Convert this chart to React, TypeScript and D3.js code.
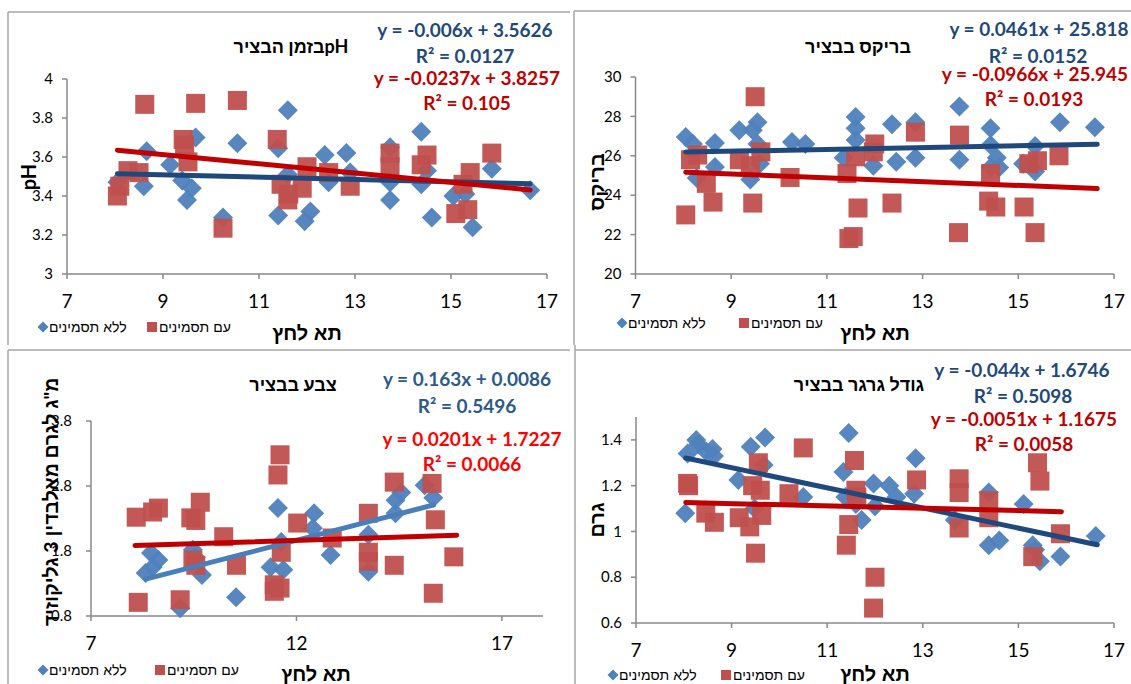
import React from 'react';
import * as d3 from 'd3';

// ---- data ----
const phBlue = [
  [8.05, 3.47], [8.66, 3.63], [8.6, 3.45], [9.15, 3.56], [9.4, 3.48], [9.5, 3.38], [9.6, 3.44], [9.68, 3.7],
  [10.25, 3.29], [10.55, 3.67], [11.4, 3.3], [11.4, 3.645], [11.6, 3.84], [11.6, 3.51], [11.95, 3.27], [12.07, 3.32],
  [12.37, 3.61], [12.45, 3.47], [12.82, 3.62], [12.9, 3.52], [13.73, 3.65], [13.73, 3.47], [13.73, 3.38], [14.38, 3.73],
  [14.38, 3.46], [14.5, 3.53], [14.6, 3.29], [15.05, 3.4], [15.3, 3.41], [15.45, 3.24], [15.85, 3.54], [16.65, 3.43],
];
const phRed = [
  [8.05, 3.4], [8.1, 3.45], [8.27, 3.53], [8.5, 3.52], [8.62, 3.87], [9.42, 3.69], [9.45, 3.66], [9.52, 3.575],
  [9.68, 3.875], [10.25, 3.235], [10.55, 3.89], [11.38, 3.69], [11.46, 3.46], [11.6, 3.38], [11.62, 3.41], [11.9, 3.44],
  [12.0, 3.55], [12.45, 3.52], [12.9, 3.45], [13.73, 3.62], [13.73, 3.55], [14.38, 3.56], [14.5, 3.61], [15.1, 3.31],
  [15.25, 3.46], [15.4, 3.52], [15.35, 3.33], [15.85, 3.62],
];
const brixBlue = [
  [8.05, 26.95], [8.2, 26.6], [8.28, 24.87], [8.66, 26.65], [8.66, 25.43], [9.17, 27.3], [9.4, 24.8], [9.45, 27.3],
  [9.55, 27.7], [9.55, 26.6], [9.6, 25.6], [10.27, 26.7], [10.55, 26.6], [11.35, 25.9], [11.6, 27.97], [11.6, 27.4],
  [11.6, 26.8], [11.97, 25.5], [12.36, 27.6], [12.45, 25.7], [12.85, 27.7], [12.85, 25.9], [13.77, 28.5], [13.77, 25.8],
  [14.42, 27.4], [14.42, 26.55], [14.42, 25.4], [14.55, 25.9], [14.6, 25.4], [15.1, 25.6], [15.35, 26.5], [15.35, 25.2],
  [15.87, 27.7], [16.6, 27.45],
];
const brixRed = [
  [8.05, 23.0], [8.15, 25.8], [8.3, 26.04], [8.48, 24.6], [8.62, 23.65], [9.17, 25.8], [9.4, 25.5], [9.45, 23.6],
  [9.5, 29.0], [9.62, 26.2], [10.23, 24.9], [11.42, 25.1], [11.46, 21.8], [11.55, 21.9], [11.6, 25.95], [11.65, 23.35],
  [12.0, 26.6], [11.97, 26.2], [12.36, 23.6], [12.85, 27.2], [13.77, 27.05], [13.75, 22.1], [14.38, 23.7], [14.42, 25.1],
  [14.53, 23.4], [15.12, 23.4], [15.22, 25.6], [15.35, 22.1], [15.4, 25.75], [15.85, 26.0],
];
const colorBlue = [
  [8.33, 1.46], [8.46, 1.77], [8.64, 1.66], [8.5, 1.55], [9.17, 0.92], [9.48, 1.82], [9.55, 1.7], [9.7, 1.43],
  [10.53, 1.09], [11.37, 1.55], [11.55, 2.46], [11.63, 1.94], [11.68, 1.51], [12.43, 2.38], [12.4, 2.15], [12.83, 1.74],
  [13.75, 2.05], [13.75, 1.48], [14.41, 2.38], [14.41, 2.58], [14.55, 2.7], [15.12, 2.81], [15.33, 2.62],
];
const colorRed = [
  [8.1, 2.32], [8.15, 1.01], [8.5, 2.4], [8.64, 2.46], [9.17, 1.05], [9.43, 2.31], [9.55, 2.27], [9.66, 2.55],
  [9.48, 1.66], [9.55, 1.58], [10.23, 2.02], [10.54, 1.58], [11.6, 3.28], [11.55, 2.97], [11.63, 1.78], [11.46, 1.28],
  [11.6, 1.23], [11.46, 1.18], [12.03, 2.23], [12.87, 2.0], [13.75, 2.38], [13.75, 1.78], [13.75, 1.64], [14.38, 2.86],
  [14.38, 1.58], [15.3, 2.84], [15.38, 2.28], [15.33, 1.15], [15.83, 1.71],
];
const sizeBlue = [
  [8.03, 1.08], [8.08, 1.34], [8.26, 1.4], [8.3, 1.38], [8.46, 1.35], [8.6, 1.36], [8.63, 1.33], [9.14, 1.225],
  [9.4, 1.37], [9.48, 1.1], [9.67, 1.29], [9.7, 1.41], [10.5, 1.15], [11.34, 1.26], [11.38, 1.15], [11.45, 1.43],
  [11.6, 1.12], [11.72, 1.05], [11.97, 1.21], [12.0, 1.11], [12.3, 1.2], [12.45, 1.15], [12.85, 1.32], [12.82, 1.165],
  [13.67, 1.05], [14.38, 1.17], [14.38, 0.94], [14.6, 0.96], [15.11, 1.12], [15.3, 0.94], [15.35, 0.92], [15.45, 0.87],
  [15.88, 0.89], [16.62, 0.98],
];
const sizeRed = [
  [8.08, 1.21], [8.1, 1.2], [8.46, 1.08], [8.64, 1.04], [9.16, 1.06], [9.38, 1.02], [9.5, 0.905], [9.44, 1.2],
  [9.56, 1.3], [9.6, 1.18], [9.63, 1.07], [10.2, 1.165], [10.5, 1.365], [11.4, 0.94], [11.45, 1.03], [11.57, 1.31],
  [11.6, 1.18], [11.62, 1.15], [12.0, 0.8], [11.97, 0.665], [12.87, 1.225], [13.76, 1.23], [13.76, 1.17], [13.76, 1.015],
  [14.38, 1.135], [14.38, 1.06], [15.4, 1.3], [15.45, 1.22], [15.3, 0.89], [15.88, 0.99],
];

// trendline coefficients [blue, red] per chart: slope, intercept, R², x-from, x-to
const trendSlope = [[-0.006, -0.0237], [0.0461, -0.0966], [0.163, 0.0201], [-0.044, -0.0051]];
const trendIntercept = [[3.5626, 3.8257], [25.818, 25.945], [0.0086, 1.7227], [1.6746, 1.1675]];
const trendR2 = [[0.0127, 0.105], [0.0152, 0.0193], [0.5496, 0.0066], [0.5098, 0.0058]];
const trendFrom = [[8.05, 8.05], [8.05, 8.05], [8.33, 8.07], [8.04, 8.04]];
const trendTo = [[16.65, 16.65], [16.65, 16.65], [15.34, 15.9], [16.65, 15.9]];

const xTicks = [7, 9, 11, 13, 15, 17];
const xTicksColor = [7, 12, 17];
const phTicks = [3, 3.2, 3.4, 3.6, 3.8, 4];
const brixTicks = [20, 22, 24, 26, 28, 30];
const colorTicks = [0.8, 1.8, 2.8, 3.8];
const sizeTicks = [0.6, 0.8, 1, 1.2, 1.4];

const titles = ['pHבזמן הבציר', 'בריקס בבציר', 'צבע בבציר', 'גודל גרגר בבציר'];
const yTitles = ['pH', 'בריקס', 'מ"ג לגרם מאלבדין 3 גליקוזיד', 'גרם'];
const xTitle = 'תא לחץ';
const legendLabels = ['ללא תסמינים', 'עם תסמינים'];

const FONT = "Lato, 'Liberation Sans', 'DejaVu Sans', sans-serif";
const HEB = "'Liberation Sans', 'DejaVu Sans', sans-serif";
const BLUE = '#4F81BD';
const RED = '#C0504D';
const AXIS = '#898989';

const diamond = (cx: number, cy: number, r: number) => `M${cx},${cy - r}L${cx + r},${cy}L${cx},${cy + r}L${cx - r},${cy}Z`;

const panels = [
  {
    blue: phBlue, red: phRed, xDomain: [7, 17], xRange: [67, 547], yDomain: [3, 4], yRange: [274, 79],
    xt: xTicks, yt: phTicks, labelGap: 14, xLabelY: 308, title: [291, 53], yTitle: [29, 177], xTitle: [307, 340],
    eq: [[465, 37], [465, 63], [467, 85], [467, 110]], eqColor: ['#1F497D', '#C00000'], lineColor: ['#1F497D', '#C00000'],
    legend: [43, 327, 152],
  },
  {
    blue: brixBlue, red: brixRed, xDomain: [7, 17], xRange: [635.5, 1114], yDomain: [20, 30], yRange: [274, 77],
    xt: xTicks, yt: brixTicks, labelGap: 14, xLabelY: 308, title: [858, 53], yTitle: [597, 182], xTitle: [875, 340],
    eq: [[1039, 36], [1038, 63], [1035, 81], [1034, 106]], eqColor: ['#1F497D', '#C00000'], lineColor: ['#1F497D', '#C00000'],
    legend: [622, 323, 744],
  },
  {
    blue: colorBlue, red: colorRed, xDomain: [7, 18], xRange: [91, 543], yDomain: [0.8, 3.8], yRange: [616, 421],
    xt: xTicksColor, yt: colorTicks, labelGap: 19, xLabelY: 650, title: [293, 391], yTitle: [51, 502], xTitle: [316, 681],
    eq: [[467, 386], [467, 413], [472, 446], [472, 471]], eqColor: ['#2B5A8A', '#FF0000'], lineColor: ['#4A7EBB', '#C00000'],
    legend: [43, 670, 160],
  },
  {
    blue: sizeBlue, red: sizeRed, xDomain: [7, 17], xRange: [636, 1114], yDomain: [0.6, 1.5], yRange: [623, 417],
    xt: xTicks, yt: sizeTicks, labelGap: 14, xLabelY: 657, title: [859, 391], yTitle: [597, 520], xTitle: [875, 681],
    eq: [[1022, 377], [1023, 403], [1024, 426], [1024, 451]], eqColor: ['#1F497D', '#C00000'], lineColor: ['#1F497D', '#C00000'],
    legend: [613, 675, 726],
  },
];

const Panel = ({ p, i }: { p: any; i: number }) => {
  const x = d3.scaleLinear().domain(p.xDomain).range(p.xRange);
  const y = d3.scaleLinear().domain(p.yDomain).range(p.yRange);
  const trend = (s: number) => {
    const f = (v: number) => trendSlope[i][s] * v + trendIntercept[i][s];
    return d3.line<number>().x(v => x(v)).y(v => y(f(v)))([trendFrom[i][s], trendTo[i][s]]) as string;
  };
  const x0 = p.xRange[0];
  const y0 = p.yRange[0];
  const eqText = (s: number) => {
    const b = trendIntercept[i][s];
    return `y = ${trendSlope[i][s]}x ${b < 0 ? '-' : '+'} ${Math.abs(b)}`;
  };
  const [lx, ly, lx2] = p.legend;
  return (
    <g>
      {/* axes */}
      <line x1={x0} x2={x0} y1={y0} y2={y(p.yDomain[1])} stroke={AXIS} strokeWidth={1.5} />
      <line x1={x0} x2={p.xRange[1]} y1={y0} y2={y0} stroke={AXIS} strokeWidth={1.5} />
      {p.yt.map((t: number) => (
        <g key={'y' + t}>
          <line x1={x0 - 5} x2={x0} y1={y(t)} y2={y(t)} stroke={AXIS} strokeWidth={1.5} />
          <text x={x0 - p.labelGap} y={y(t)} dy="0.35em" textAnchor="end" fontSize={15} fill="#000" fontFamily={FONT}>{t}</text>
        </g>
      ))}
      {p.xt.map((t: number) => (
        <g key={'x' + t}>
          <line x1={x(t)} x2={x(t)} y1={y0} y2={y0 + 5} stroke={AXIS} strokeWidth={1.5} />
          <text x={x(t)} y={p.xLabelY} textAnchor="middle" fontSize={19} fill="#000" fontFamily={FONT}>{t}</text>
        </g>
      ))}
      {/* markers */}
      {p.blue.map((d: number[], k: number) => (
        <path key={'b' + k} d={diamond(x(d[0]), y(d[1]), 10)} fill={BLUE} fillOpacity={0.95} />
      ))}
      {p.red.map((d: number[], k: number) => (
        <rect key={'r' + k} x={x(d[0]) - 9.5} y={y(d[1]) - 9.5} width={19} height={19} fill={RED} fillOpacity={0.95} />
      ))}
      {/* trendlines */}
      <path d={trend(0)} stroke={p.lineColor[0]} strokeWidth={5} fill="none" strokeLinecap="round" />
      <path d={trend(1)} stroke={p.lineColor[1]} strokeWidth={5} fill="none" strokeLinecap="round" />
      {/* equations */}
      <g fontFamily={FONT} fontWeight="bold" fontSize={19} textAnchor="middle">
        <text x={p.eq[0][0]} y={p.eq[0][1]} fill={p.eqColor[0]}>{eqText(0)}</text>
        <text x={p.eq[1][0]} y={p.eq[1][1]} fill={p.eqColor[0]}>{`R² = ${trendR2[i][0]}`}</text>
        <text x={p.eq[2][0]} y={p.eq[2][1]} fill={p.eqColor[1]}>{eqText(1)}</text>
        <text x={p.eq[3][0]} y={p.eq[3][1]} fill={p.eqColor[1]}>{`R² = ${trendR2[i][1]}`}</text>
      </g>
      {/* titles */}
      <text x={p.title[0]} y={p.title[1]} textAnchor="middle" direction="rtl" fontFamily={FONT} fontWeight="bold" fontSize={18}>{titles[i]}</text>
      <text transform={`translate(${p.yTitle[0]},${p.yTitle[1]}) rotate(-90)`} textAnchor="middle" dy="0.35em" direction="rtl"
        fontFamily={FONT} fontWeight="bold" fontSize={i === 2 ? 19.5 : 20}>{yTitles[i]}</text>
      <text x={p.xTitle[0]} y={p.xTitle[1]} textAnchor="middle" fontFamily={HEB} fontWeight="bold" fontSize={20}>{xTitle}</text>
      {/* legend */}
      <path d={diamond(lx, ly, 5.5)} fill={BLUE} />
      <text x={lx + 6} y={ly + 5} fontFamily={HEB} fontSize={14}>{legendLabels[0]}</text>
      <rect x={lx2 - 5} y={ly - 5} width={10} height={10} fill={RED} />
      <text x={lx2 + 7} y={ly + 5} fontFamily={HEB} fontSize={14}>{legendLabels[1]}</text>
    </g>
  );
};

export default function App() {
  return (
    <svg width={1131} height={684} style={{ position: 'absolute', left: 0, top: 0, background: '#fff' }}>
      <rect width={1131} height={684} fill="#fff" />
      <g stroke="#a6a6a6" strokeWidth={1.5}>
        <line x1={8} x2={570} y1={12} y2={12} />
        <line x1={8} x2={8} y1={12} y2={345} />
        <line x1={574} x2={1131} y1={11} y2={11} />
        <line x1={574} x2={574} y1={11} y2={345} />
        <line x1={8} x2={570} y1={350} y2={350} />
        <line x1={8} x2={8} y1={350} y2={684} />
        <line x1={575} x2={1131} y1={350} y2={350} />
        <line x1={575} x2={575} y1={345} y2={684} />
      </g>
      {panels.map((p, i) => <Panel key={i} p={p} i={i} />)}
    </svg>
  );
}
